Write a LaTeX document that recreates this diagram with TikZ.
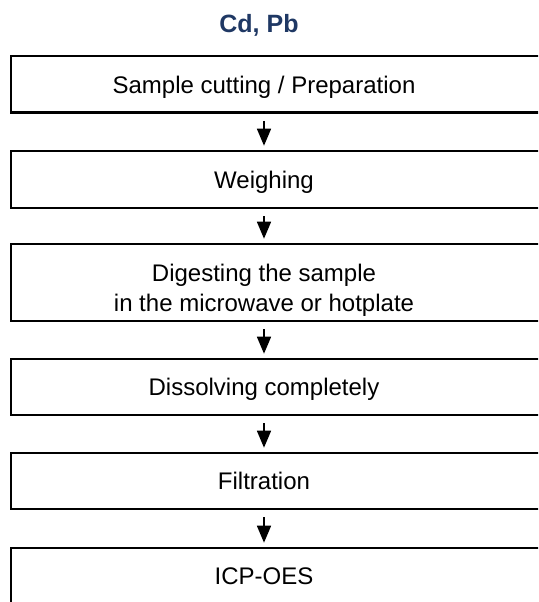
\documentclass[tikz,border=0pt]{standalone}
\usepackage{fontspec}
\setmainfont{Liberation Sans}
\usetikzlibrary{arrows.meta,positioning}
\definecolor{titleblue}{RGB}{31,56,100}

\begin{document}
\begin{tikzpicture}[x=1pt,y=-1pt,
		stepbox/.style={draw=black,line width=2.6pt,minimum width=549pt,inner sep=0pt},
		steptext/.style={font=\fontsize{24}{30}\selectfont,align=center,inner sep=0pt,anchor=base},
		flow/.style={-{Triangle[width=14pt,length=17pt]},line width=1.6pt,shorten <=7pt,shorten >=4pt}]
		\useasboundingbox (0,0) rectangle (538,602);
		\clip (0,0) rectangle (538,602);
		%Title
		\node[font=\fontsize{25}{30}\selectfont\bfseries,text=titleblue,anchor=base] (title) at (259,33) {Cd, Pb};
		%Boxes
		\node[stepbox,minimum height=56.5pt] (b1) at (285.5,84.25) {};
		\node[stepbox,minimum height=57pt] (b2) at (285.5,179.5) {};
		\node[stepbox,minimum height=77pt] (b3) at (285.5,282.5) {};
		\node[stepbox,minimum height=56pt] (b4) at (285.5,387) {};
		\node[stepbox,minimum height=56pt] (b5) at (285.5,481) {};
		\node[stepbox,minimum height=72pt] (b6) at (285.5,584) {};
		%Texts (baselines, last line)
		\node[steptext] (t1) at (264,93) {Sample cutting / Preparation};
		\node[steptext] (t2) at (264,188) {Weighing};
		\node[steptext] (t3) at (264,311.5) {Digesting the sample\\in the microwave or hotplate};
		\node[steptext] (t4) at (264,395.5) {Dissolving completely};
		\node[steptext] (t5) at (264,489.5) {Filtration};
		\node[steptext] (t6) at (264,584) {ICP-OES};
		%Arrows
		\draw[flow] (t1 |- b1.south) -- (t2 |- b2.north);
		\draw[flow] (t2 |- b2.south) -- (t3 |- b3.north);
		\draw[flow] (t3 |- b3.south) -- (t4 |- b4.north);
		\draw[flow] (t4 |- b4.south) -- (t5 |- b5.north);
		\draw[flow] (t5 |- b5.south) -- (t6 |- b6.north);
\end{tikzpicture}
\end{document}
